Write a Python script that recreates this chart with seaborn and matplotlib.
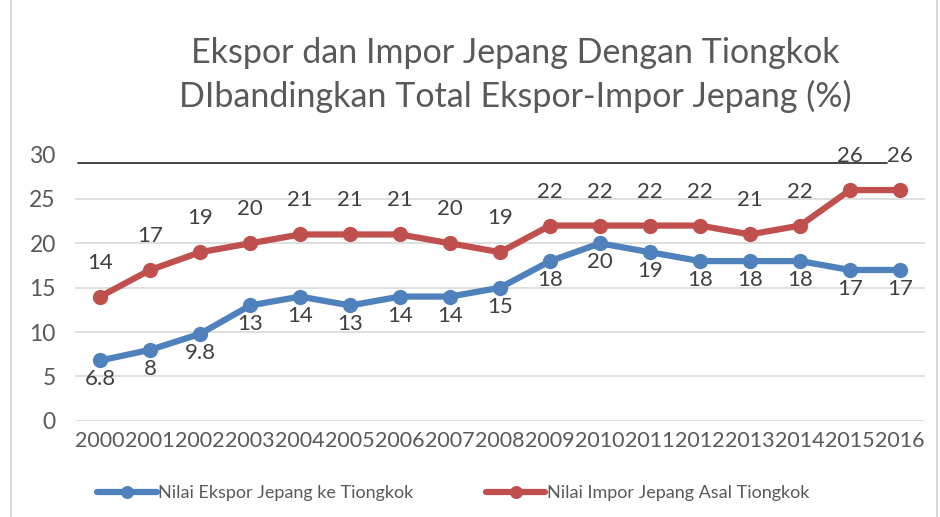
import matplotlib
matplotlib.use("Agg")
from matplotlib import pyplot as plt
from matplotlib.patches import Rectangle
import seaborn as sns
import pandas as pd

years = [str(y) for y in range(2000, 2017)]
ekspor = [6.8, 8, 9.8, 13, 14, 13, 14, 14, 15, 18, 20, 19, 18, 18, 18, 17, 17]
impor = [14, 17, 19, 20, 21, 21, 21, 20, 19, 22, 22, 22, 22, 21, 22, 26, 26]
ekspor_labels = ["6.8", "8", "9.8", "13", "14", "13", "14", "14", "15", "18", "20",
                 "19", "18", "18", "18", "17", "17"]
impor_labels = [str(v) for v in impor]
series_names = ["Nilai Ekspor Jepang ke Tiongkok", "Nilai Impor Jepang Asal Tiongkok"]
title = "Ekspor dan Impor Jepang Dengan Tiongkok\nDIbandingkan Total Ekspor-Impor Jepang (%)"

sns.set_style("white")
plt.rcParams["font.family"] = ["Lato", "DejaVu Sans"]

blue = "#4F81BD"
red = "#C0504D"
grey_text = "#595959"

df = pd.DataFrame({"Tahun": years * 2,
                   "Nilai": ekspor + impor,
                   "Seri": [series_names[0]] * len(years) + [series_names[1]] * len(years)})

fig = plt.figure(figsize=(9.4, 5.17), dpi=100)
ax = fig.add_axes([0.08, 0.186, 0.904, 0.515])

sns.lineplot(data=df, x="Tahun", y="Nilai", hue="Seri", palette=[blue, red],
             marker="o", markersize=11, markeredgewidth=0, linewidth=4.5,
             sort=False, ax=ax)

# data labels: export below, import above
for i, (v, s) in enumerate(zip(ekspor, ekspor_labels)):
    ax.annotate(s, (i, v), xytext=(0, -19), textcoords="offset pixels",
                ha="center", va="center", fontsize=16, color="#404040")
for i, (v, s) in enumerate(zip(impor, impor_labels)):
    ax.annotate(s, (i, v), xytext=(0, 34), textcoords="offset pixels",
                ha="center", va="center", fontsize=16, color="#404040")

ax.set_xlim(-0.5, len(years) - 0.5)
ax.set_ylim(0, 30)
ax.set_yticks(range(0, 31, 5))
ax.grid(axis="y", color="#D9D9D9", linewidth=1.2)
ax.get_ygridlines()[-1].set_visible(False)
ax.set_axisbelow(True)
for sp in ax.spines.values():
    sp.set_visible(False)
ax.tick_params(axis="both", length=0, labelsize=16.5, labelcolor=grey_text)
ax.tick_params(axis="x", pad=7, labelsize=15.5)
ax.tick_params(axis="y", pad=14)
ax.set_xlabel("")
ax.set_ylabel("")

# stray dark rule near the top
ax.axhline(29, xmin=0.003, xmax=0.955, color="#262626", linewidth=1.2, zorder=1)

fig.text(0.548, 0.855, title, ha="center", va="center", fontsize=24.5,
         color=grey_text, linespacing=1.4)

ax.legend(loc="upper center", bbox_to_anchor=(0.445, -0.18), ncol=2, frameon=False,
          fontsize=13, handlelength=3.3, handletextpad=0.1, columnspacing=4,
          labelcolor=grey_text, markerscale=0.85)

fig.patches.append(Rectangle((0.012, -0.01), 0.985, 1.02, transform=fig.transFigure,
                             fill=False, edgecolor="#D9D9D9", linewidth=1.5))

plt.savefig("out.png", dpi=100)
